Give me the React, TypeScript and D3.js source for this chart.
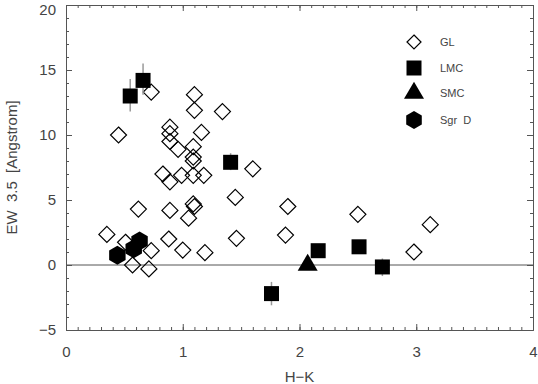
import { useEffect, useRef } from "react";
import * as d3 from "d3";

// GL (open diamonds)
const glX = [0.73, 1.1, 1.1, 1.34, 0.45, 0.89, 0.89, 1.16, 0.89, 0.96, 1.09, 1.09, 1.09, 1.6, 0.83, 0.89, 0.99, 1.09, 1.18, 1.45, 0.62, 0.89, 1.09, 1.1, 1.05, 0.35, 0.51, 0.73, 0.57, 0.71, 0.88, 1.0, 1.19, 1.46, 1.9, 1.88, 2.5, 3.12, 2.98];
const glY = [13.3, 13.1, 11.9, 11.8, 10.0, 10.6, 10.1, 10.2, 9.5, 8.9, 9.1, 8.3, 8.0, 7.4, 7.0, 6.4, 6.9, 6.9, 6.9, 5.2, 4.3, 4.2, 4.7, 4.5, 3.6, 2.35, 1.75, 1.1, 0.0, -0.3, 2.0, 1.15, 0.95, 2.05, 4.5, 2.3, 3.9, 3.1, 1.0];

// LMC (filled squares, with error bars)
const lmcX = [0.55, 0.66, 1.41, 1.76, 2.16, 2.51, 2.71];
const lmcY = [13.0, 14.2, 7.9, -2.2, 1.1, 1.4, -0.15];
const lmcLo = [11.8, 13.1, 7.3, -3.1, 1.1, 1.4, -0.85];
const lmcHi = [14.3, 15.5, 8.6, -1.3, 1.1, 1.4, 0.5];

// SMC (filled triangle)
const smcX = [2.07];
const smcY = [0.0];

// Sgr D (filled hexagons)
const sgrX = [0.44, 0.63, 0.58];
const sgrY = [0.75, 1.85, 1.25];

const xMajor = [0, 1, 2, 3, 4];
const yMajor = [-5, 0, 5, 10, 15, 20];
const legendLabels = ["GL", "LMC", "SMC", "Sgr  D"];

const W = 538;
const H = 384;
const margin = { top: 5, right: 5, bottom: 54, left: 66 };

const diamond = (r: number) => `M0,${-r}L${r},0L0,${r}L${-r},0Z`;
const square = (s: number) => `M${-s / 2},${-s / 2}h${s}v${s}h${-s}Z`;
const triangle = (b: number, h: number) =>
  `M0,${(-h * 2) / 3}L${b / 2},${h / 3}L${-b / 2},${h / 3}Z`;
const hexagon = (r: number) => {
  const pts = d3.range(6).map((i) => {
    const a = (Math.PI / 3) * i - Math.PI / 2;
    return [r * Math.cos(a), r * Math.sin(a)];
  });
  return "M" + pts.map((p) => p.join(",")).join("L") + "Z";
};

const App = () => {
  const svgRef = useRef<SVGSVGElement>(null);

  useEffect(() => {
    const svg = d3.select(svgRef.current);
    svg.selectAll("*").remove();

    const x = d3.scaleLinear().domain([0, 4]).range([margin.left, W - margin.right]);
    const y = d3.scaleLinear().domain([-5, 20]).range([H - margin.bottom, margin.top]);

    const axisColor = "#555";
    const textColor = "#444";
    const font = "'Liberation Sans', Arial, sans-serif";

    const xMinor = d3.range(0, 4.001, 0.1).map((v) => +v.toFixed(1));
    const yMinor = d3.range(-5, 20.001, 1);

    const styleAxis = (g: any) => {
      g.select(".domain").attr("stroke", axisColor);
      g.selectAll(".tick line").attr("stroke", axisColor);
      g.selectAll(".tick text")
        .attr("fill", textColor)
        .style("font-family", font)
        .style("font-size", "15px");
    };

    // bottom
    svg.append("g")
      .attr("transform", `translate(0,${y(-5)})`)
      .call(d3.axisBottom(x).tickValues(xMinor).tickSize(-3).tickFormat(() => "").tickSizeOuter(0))
      .call(styleAxis);
    svg.append("g")
      .attr("transform", `translate(0,${y(-5)})`)
      .call(d3.axisBottom(x).tickValues(xMajor).tickSize(-6).tickPadding(16).tickFormat(d3.format("d")).tickSizeOuter(0))
      .call(styleAxis);
    // top
    svg.append("g")
      .attr("transform", `translate(0,${y(20)})`)
      .call(d3.axisTop(x).tickValues(xMinor).tickSize(-3).tickFormat(() => "").tickSizeOuter(0))
      .call(styleAxis);
    svg.append("g")
      .attr("transform", `translate(0,${y(20)})`)
      .call(d3.axisTop(x).tickValues(xMajor).tickSize(-6).tickFormat(() => "").tickSizeOuter(0))
      .call(styleAxis);
    // left
    svg.append("g")
      .attr("transform", `translate(${x(0)},0)`)
      .call(d3.axisLeft(y).tickValues(yMinor).tickSize(-3).tickFormat(() => "").tickSizeOuter(0))
      .call(styleAxis);
    const yAxisG = svg.append("g")
      .attr("transform", `translate(${x(0)},0)`)
      .call(d3.axisLeft(y).tickValues(yMajor).tickSize(-6).tickPadding(10).tickFormat((d: any) => (d < 0 ? "\u2212" + Math.abs(d) : String(d))).tickSizeOuter(0))
      .call(styleAxis);
    // keep the top label inside the picture, as in the original
    yAxisG.selectAll(".tick text")
      .filter((d: any) => d === 20)
      .attr("dy", "0.6em");
    // right
    svg.append("g")
      .attr("transform", `translate(${x(4)},0)`)
      .call(d3.axisRight(y).tickValues(yMinor).tickSize(-3).tickFormat(() => "").tickSizeOuter(0))
      .call(styleAxis);
    svg.append("g")
      .attr("transform", `translate(${x(4)},0)`)
      .call(d3.axisRight(y).tickValues(yMajor).tickSize(-6).tickFormat(() => "").tickSizeOuter(0))
      .call(styleAxis);

    // zero line
    svg.append("line")
      .attr("x1", x(0))
      .attr("x2", x(4))
      .attr("y1", y(0))
      .attr("y2", y(0))
      .attr("stroke", "#555")
      .attr("stroke-width", 1);

    // axis titles
    svg.append("text")
      .attr("x", (x(0) + x(4)) / 2)
      .attr("y", 382)
      .attr("text-anchor", "middle")
      .attr("fill", textColor)
      .style("font-family", font)
      .style("font-size", "15px")
      .text("H\u2212K");
    svg.append("text")
      .attr("transform", `translate(17,${(y(-5) + y(20)) / 2}) rotate(-90)`)
      .attr("text-anchor", "middle")
      .attr("fill", textColor)
      .style("font-family", font)
      .style("font-size", "15px")
      .style("white-space", "pre")
      .text("EW  3.5  [Angstrom]");

    // GL diamonds
    svg.append("g")
      .selectAll("path")
      .data(glX.map((v, i) => [v, glY[i]]))
      .join("path")
      .attr("transform", (d) => `translate(${x(d[0])},${y(d[1])})`)
      .attr("d", diamond(8))
      .attr("fill", "none")
      .attr("stroke", "#000")
      .attr("stroke-width", 1.2);

    // LMC error bars + squares
    const lmc = lmcX.map((v, i) => ({ x: v, y: lmcY[i], lo: lmcLo[i], hi: lmcHi[i] }));
    svg.append("g")
      .selectAll("line")
      .data(lmc)
      .join("line")
      .attr("x1", (d) => x(d.x))
      .attr("x2", (d) => x(d.x))
      .attr("y1", (d) => y(d.lo))
      .attr("y2", (d) => y(d.hi))
      .attr("stroke", "#999")
      .attr("stroke-width", 1.5);
    svg.append("g")
      .selectAll("path")
      .data(lmc)
      .join("path")
      .attr("transform", (d) => `translate(${x(d.x)},${y(d.y)})`)
      .attr("d", square(15))
      .attr("fill", "#000");

    // SMC triangle
    svg.append("g")
      .selectAll("path")
      .data(smcX.map((v, i) => [v, smcY[i]]))
      .join("path")
      .attr("transform", (d) => `translate(${x(d[0])},${y(d[1])})`)
      .attr("d", triangle(20, 17))
      .attr("fill", "#000");

    // Sgr D hexagons
    svg.append("g")
      .selectAll("path")
      .data(sgrX.map((v, i) => [v, sgrY[i]]))
      .join("path")
      .attr("transform", (d) => `translate(${x(d[0])},${y(d[1])})`)
      .attr("d", hexagon(9.5))
      .attr("fill", "#000");

    // legend
    const legendY = [42, 68, 93, 120];
    const legendShapes = [diamond(7), square(15), triangle(20, 17), hexagon(9)];
    const legend = svg.append("g").attr("transform", "translate(414,0)");
    legendLabels.forEach((label, i) => {
      legend.append("path")
        .attr("transform", `translate(0,${legendY[i]})`)
        .attr("d", legendShapes[i])
        .attr("fill", i === 0 ? "none" : "#000")
        .attr("stroke", i === 0 ? "#000" : "none")
        .attr("stroke-width", 1.2);
      legend.append("text")
        .attr("x", 26)
        .attr("y", legendY[i])
        .attr("dy", "0.35em")
        .attr("fill", textColor)
        .style("font-family", font)
        .style("font-size", "11px")
        .style("white-space", "pre")
        .text(label);
    });
  }, []);

  return (
    <svg
      ref={svgRef}
      width={W}
      height={H}
      style={{ position: "absolute", left: 0, top: 0, background: "#fff" }}
    />
  );
};

export default App;
